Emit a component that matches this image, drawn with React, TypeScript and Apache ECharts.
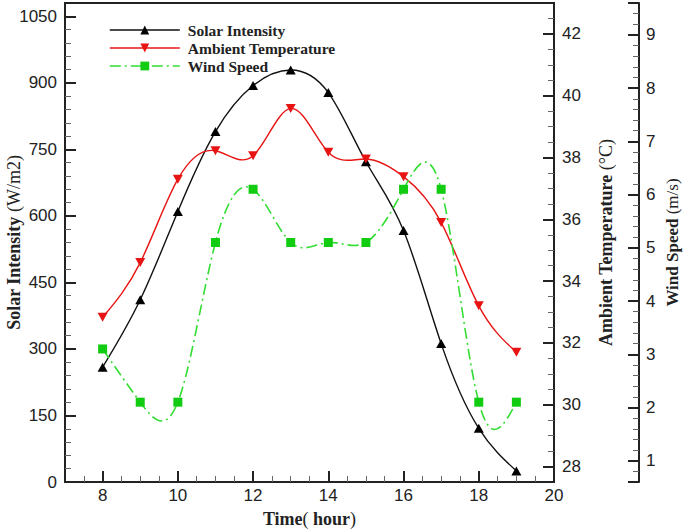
import React, { useEffect, useRef } from 'react';
import * as echarts from 'echarts';

// ---- data ----
const hours = [8, 9, 10, 11, 12, 13, 14, 15, 16, 17, 18, 19];
const solarIntensity = [259, 411, 610, 790, 894, 929, 878, 722, 567, 312, 121, 25];
const ambientTemperature = [32.83, 34.6, 37.3, 38.22, 38.06, 39.59, 38.17, 37.95, 37.38, 35.9, 33.2, 31.7];
const windSpeed = [3.1, 2.1, 2.1, 5.1, 6.1, 5.1, 5.1, 5.1, 6.1, 6.1, 2.1, 2.1];

const seriesNames = ['Solar Intensity', 'Ambient Temperature', 'Wind Speed'];

// axis ranges
const xRange = [7, 20];
const solarRange = [0, 1080];
const solarStep = 150;
const tempRange = [27.5, 43];
const windRange = [0.6, 9.6];

const SANS = 'Liberation Sans, Arial, sans-serif';
const SERIF = 'Liberation Serif, Times New Roman, serif';
const INK = '#222';

const C_SOLAR = '#111111';
const C_TEMP = '#e81414';
const C_WIND_LINE = '#33dd33';
const C_WIND_MARK = '#11cc11';

// natural cubic spline coefficients (used only for drawing the curve through the points)
function naturalSpline(xs: number[], ys: number[]) {
  const n = xs.length - 1;
  const h: number[] = [];
  for (let i = 0; i < n; i++) h.push(xs[i + 1] - xs[i]);
  const al = new Array(n + 1).fill(0);
  for (let i = 1; i < n; i++) {
    al[i] = (3 / h[i]) * (ys[i + 1] - ys[i]) - (3 / h[i - 1]) * (ys[i] - ys[i - 1]);
  }
  const l = new Array(n + 1).fill(0);
  const mu = new Array(n + 1).fill(0);
  const z = new Array(n + 1).fill(0);
  l[0] = 1;
  for (let i = 1; i < n; i++) {
    l[i] = 2 * (xs[i + 1] - xs[i - 1]) - h[i - 1] * mu[i - 1];
    mu[i] = h[i] / l[i];
    z[i] = (al[i] - h[i - 1] * z[i - 1]) / l[i];
  }
  l[n] = 1;
  const c = new Array(n + 1).fill(0);
  const b = new Array(n).fill(0);
  const d = new Array(n).fill(0);
  for (let j = n - 1; j >= 0; j--) {
    c[j] = z[j] - mu[j] * c[j + 1];
    b[j] = (ys[j + 1] - ys[j]) / h[j] - (h[j] * (c[j + 1] + 2 * c[j])) / 3;
    d[j] = (c[j + 1] - c[j]) / (3 * h[j]);
  }
  return { b, c, d, h };
}

function curveRenderer(xs: number[], ys: number[], stroke: string, width: number, dash: number[] | null) {
  const sp = naturalSpline(xs, ys);
  return (params: any, api: any) => {
    if (params.dataIndex !== 0) return null;
    const pt = (x: number, y: number) => api.coord([x, y]);
    const p0 = pt(xs[0], ys[0]);
    let d = `M${p0[0]},${p0[1]}`;
    for (let j = 0; j < xs.length - 1; j++) {
      const h = sp.h[j];
      const s0 = sp.b[j];
      const s1 = sp.b[j] + 2 * sp.c[j] * h + 3 * sp.d[j] * h * h;
      const c1 = pt(xs[j] + h / 3, ys[j] + (s0 * h) / 3);
      const c2 = pt(xs[j + 1] - h / 3, ys[j + 1] - (s1 * h) / 3);
      const p1 = pt(xs[j + 1], ys[j + 1]);
      d += ` C${c1[0]},${c1[1]} ${c2[0]},${c2[1]} ${p1[0]},${p1[1]}`;
    }
    return {
      type: 'path',
      shape: { pathData: d },
      style: { fill: 'none', stroke, lineWidth: width, lineDash: dash || undefined },
    };
  };
}

const pairs = (vals: number[]) => hours.map((h, i) => [h, vals[i]]);

const majorTick = (len: number) => ({
  show: true,
  inside: true,
  length: len,
  lineStyle: { color: INK, width: 2 },
});
const minorTick = (split: number) => ({
  show: true,
  splitNumber: split,
  length: 6,
  lineStyle: { color: '#666', width: 1 },
});
const axisLine = { show: true, onZero: false, lineStyle: { color: INK, width: 2 } };
const plain = (v: number) => String(v);
const tickLabel = (margin: number) => ({ fontFamily: SANS, fontSize: 17, color: INK, margin, formatter: plain });
const nameStyle = (size = 18) => ({
  fontFamily: SERIF,
  fontSize: size,
  color: INK,
  rich: {
    b: { fontFamily: SERIF, fontSize: size, fontWeight: 'bold', color: INK },
    n: { fontFamily: SERIF, fontSize: size, color: INK },
  },
});

const WIND_DASH = [11, 4, 2, 4];

export default function App() {
  const ref = useRef<HTMLDivElement>(null);
  useEffect(() => {
    if (!ref.current) return;
    const chart = echarts.init(ref.current, undefined, { renderer: 'svg' });
    chart.setOption({
      animation: false,
      backgroundColor: '#fff',
      grid: {
        left: 65,
        right: 131,
        top: 3,
        bottom: 50,
        containLabel: false,
        outerBoundsMode: 'none',
        show: true,
        borderColor: INK,
        borderWidth: 2,
        backgroundColor: 'transparent',
      },
      legend: {
        orient: 'vertical',
        left: 104,
        top: 17,
        itemWidth: 70,
        itemHeight: 11,
        itemGap: 2,
        selectedMode: false,
        textStyle: {
          fontFamily: SERIF,
          fontSize: 15.5,
          fontWeight: 'bold',
          color: INK,
          padding: [0, 0, 0, 3],
        },
        data: [
          { name: seriesNames[0], lineStyle: { color: C_SOLAR, width: 1.4, opacity: 1, type: 'solid' } },
          { name: seriesNames[1], lineStyle: { color: C_TEMP, width: 1.4, opacity: 1, type: 'solid' } },
          { name: seriesNames[2], lineStyle: { color: C_WIND_LINE, width: 1.6, opacity: 1, type: WIND_DASH } },
        ],
      },
      xAxis: {
        type: 'value',
        min: xRange[0],
        max: xRange[1],
        splitNumber: 6,
        axisLine,
        axisTick: majorTick(11),
        minorTick: minorTick(4),
        splitLine: { show: false },
        axisLabel: { ...tickLabel(5), showMinLabel: false },
        name: '{b|Time}{n|(}{b| hour}{n|)}',
        nameLocation: 'middle',
        nameGap: 28,
        nameTextStyle: nameStyle(),
      },
      yAxis: [
        {
          type: 'value',
          position: 'left',
          min: solarRange[0],
          max: solarRange[1],
          interval: solarStep,
          axisLine,
          axisTick: majorTick(11),
          minorTick: minorTick(5),
          splitLine: { show: false },
          axisLabel: { ...tickLabel(8), showMaxLabel: false },
          name: '{b|Solar Intensity} {n|(W/m2)}',
          nameLocation: 'middle',
          nameRotate: 90,
          nameGap: 42,
          nameMoveOverlap: false,
          nameTextStyle: nameStyle(),
        },
        {
          type: 'value',
          position: 'right',
          min: tempRange[0],
          max: tempRange[1],
          splitNumber: 8,
          axisLine,
          axisTick: majorTick(11),
          minorTick: minorTick(4),
          splitLine: { show: false },
          axisLabel: { ...tickLabel(8), showMinLabel: false, showMaxLabel: false },
          name: '{b|Ambient Temperature} {n|(°C)}',
          nameLocation: 'middle',
          nameRotate: 90,
          nameGap: 43,
          nameMoveOverlap: false,
          nameTextStyle: nameStyle(),
        },
        {
          type: 'value',
          position: 'right',
          offset: 85,
          min: windRange[0],
          max: windRange[1],
          splitNumber: 9,
          axisLine,
          axisTick: majorTick(11),
          minorTick: minorTick(5),
          splitLine: { show: false },
          axisLabel: { ...tickLabel(7), showMinLabel: false, showMaxLabel: false },
          name: '{b|Wind Speed} {n|(m/s)}',
          nameLocation: 'middle',
          nameRotate: 90,
          nameGap: 25,
          nameMoveOverlap: false,
          nameTextStyle: nameStyle(17),
        },
      ],
      series: [
        {
          type: 'custom',
          name: 'solar-curve',
          coordinateSystem: 'cartesian2d',
          xAxisIndex: 0,
          yAxisIndex: 0,
          silent: true,
          z: 2,
          encode: { x: 0, y: 1 },
          data: pairs(solarIntensity),
          renderItem: curveRenderer(hours, solarIntensity, C_SOLAR, 1.4, null),
        },
        {
          type: 'custom',
          name: 'temp-curve',
          coordinateSystem: 'cartesian2d',
          xAxisIndex: 0,
          yAxisIndex: 1,
          silent: true,
          z: 2,
          encode: { x: 0, y: 1 },
          data: pairs(ambientTemperature),
          renderItem: curveRenderer(hours, ambientTemperature, C_TEMP, 1.4, null),
        },
        {
          type: 'custom',
          name: 'wind-curve',
          coordinateSystem: 'cartesian2d',
          xAxisIndex: 0,
          yAxisIndex: 2,
          silent: true,
          z: 2,
          encode: { x: 0, y: 1 },
          data: pairs(windSpeed),
          renderItem: curveRenderer(hours, windSpeed, C_WIND_LINE, 1.6, WIND_DASH),
        },
        {
          type: 'line',
          name: seriesNames[0],
          yAxisIndex: 0,
          data: pairs(solarIntensity),
          symbol: 'triangle',
          symbolSize: [10, 9],
          showAllSymbol: true,
          itemStyle: { color: '#000' },
          lineStyle: { color: C_SOLAR, opacity: 0 },
          z: 4,
        },
        {
          type: 'line',
          name: seriesNames[1],
          yAxisIndex: 1,
          data: pairs(ambientTemperature),
          symbol: 'triangle',
          symbolRotate: 180,
          symbolSize: [10, 9],
          showAllSymbol: true,
          itemStyle: { color: C_TEMP },
          lineStyle: { color: C_TEMP, opacity: 0 },
          z: 4,
        },
        {
          type: 'line',
          name: seriesNames[2],
          yAxisIndex: 2,
          data: pairs(windSpeed),
          symbol: 'rect',
          symbolSize: 9,
          showAllSymbol: true,
          itemStyle: { color: C_WIND_MARK },
          lineStyle: { color: C_WIND_LINE, opacity: 0 },
          z: 4,
        },
      ],
    });
    return () => chart.dispose();
  }, []);
  return (
    <div
      ref={ref}
      style={{ position: 'fixed', left: 0, top: 0, width: 685, height: 532, background: '#fff' }}
    />
  );
}
